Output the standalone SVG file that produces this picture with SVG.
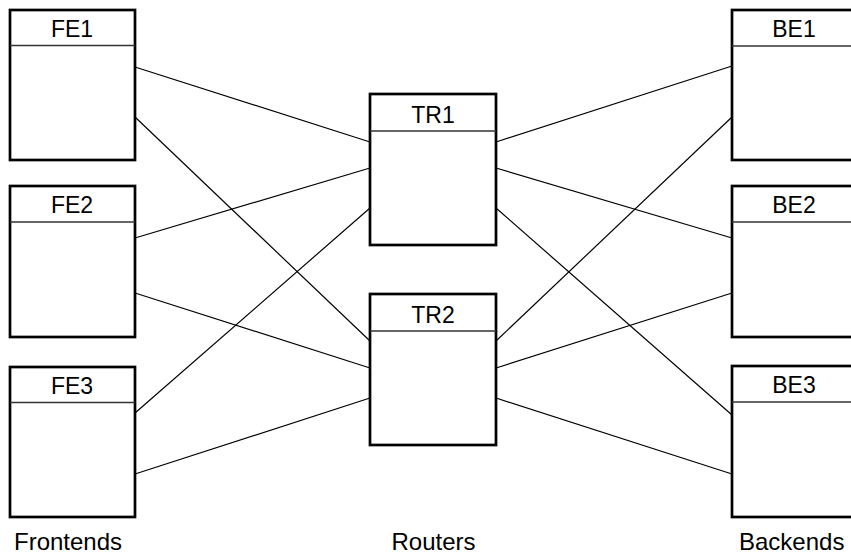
<svg xmlns="http://www.w3.org/2000/svg" width="851" height="556" viewBox="0 0 851 556">
<style>
.box{fill:#fff;stroke:#000;stroke-width:2.7}
.hdr{stroke:#333;stroke-width:1.4}
.lbl{font-family:"Liberation Sans",Arial,sans-serif;font-size:23px;text-anchor:middle;fill:#000}
.cap{font-family:"Liberation Sans",Arial,sans-serif;font-size:24px;fill:#000}
.conn line{stroke:#000;stroke-width:1.2}
</style>
<rect width="851" height="556" fill="#fff"/>
<g class="conn" id="connectors">
<line x1="135" y1="67" x2="370" y2="142"/>
<line x1="135" y1="117" x2="370" y2="341"/>
<line x1="135" y1="238" x2="370" y2="168"/>
<line x1="135" y1="293" x2="370" y2="368"/>
<line x1="135" y1="413" x2="370" y2="208"/>
<line x1="135" y1="474" x2="370" y2="398"/>
<line x1="496" y1="142" x2="732" y2="66"/>
<line x1="496" y1="341" x2="732" y2="117"/>
<line x1="496" y1="168" x2="732" y2="238"/>
<line x1="496" y1="368" x2="732" y2="293"/>
<line x1="496" y1="208" x2="732" y2="415"/>
<line x1="496" y1="398" x2="732" y2="474"/>
</g>
<g id="FE1"><rect class="box" x="10" y="10" width="125" height="150"/><line class="hdr" x1="10" y1="45.5" x2="135" y2="45.5"/><text class="lbl" x="72" y="37">FE1</text></g>
<g id="FE2"><rect class="box" x="10" y="186" width="125" height="151"/><line class="hdr" x1="10" y1="222" x2="135" y2="222"/><text class="lbl" x="72" y="213">FE2</text></g>
<g id="FE3"><rect class="box" x="10" y="367" width="125" height="150"/><line class="hdr" x1="10" y1="402.5" x2="135" y2="402.5"/><text class="lbl" x="72" y="394">FE3</text></g>
<g id="TR1"><rect class="box" x="370" y="94" width="126" height="151"/><line class="hdr" x1="370" y1="131" x2="496" y2="131"/><text class="lbl" x="433" y="122.5">TR1</text></g>
<g id="TR2"><rect class="box" x="370" y="294" width="126" height="151"/><line class="hdr" x1="370" y1="331" x2="496" y2="331"/><text class="lbl" x="433" y="322.5">TR2</text></g>
<g id="BE1"><rect class="box" x="732" y="10" width="125" height="150"/><line class="hdr" x1="732" y1="46" x2="857" y2="46"/><text class="lbl" x="794" y="37">BE1</text></g>
<g id="BE2"><rect class="box" x="732" y="186" width="125" height="151"/><line class="hdr" x1="732" y1="222" x2="857" y2="222"/><text class="lbl" x="794" y="213">BE2</text></g>
<g id="BE3"><rect class="box" x="732" y="366" width="125" height="151"/><line class="hdr" x1="732" y1="402" x2="857" y2="402"/><text class="lbl" x="794" y="393">BE3</text></g>
<text class="cap" x="14" y="550">Frontends</text>
<text class="cap" x="433.5" y="550" text-anchor="middle">Routers</text>
<text class="cap" x="739" y="550">Backends</text>
</svg>
